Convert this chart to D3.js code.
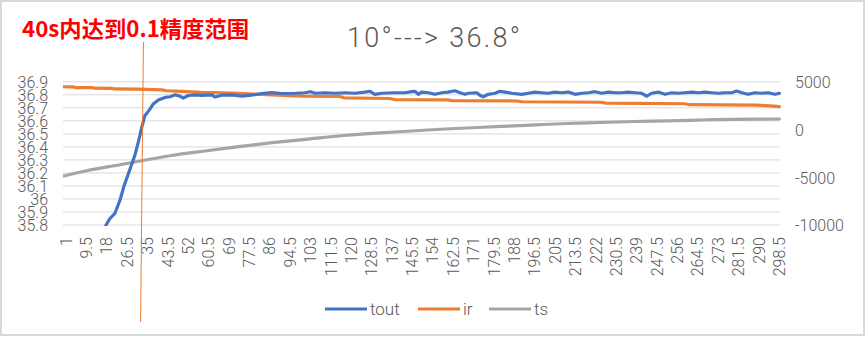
<!DOCTYPE html>
<html>
<head>
<meta charset="utf-8">
<script src="https://cdn.jsdelivr.net/npm/d3@7/dist/d3.min.js"></script>
<style>
  html, body { margin: 0; padding: 0; background: #fff; }
  svg { display: block; }
  .lbl { font-family: Roboto, "Noto Sans", sans-serif; font-weight: 300; fill: #595959; }
</style>
</head>
<body>
<svg id="chart" width="867" height="338"></svg>
<script>
// ---- data -------------------------------------------------------------
// tout: outlet temperature (left axis, °C)
const toutTime = [1, 8, 15, 18.7, 20.3, 22.4, 24.5, 26.2, 28.7, 30.8, 32.2, 33.6, 34.9, 37, 38.4, 40.5,
  43.3, 45.4, 47.5, 49.5, 50.9, 53, 55.8, 58.6, 62.8, 64.1, 66.9, 71.1, 75.3, 79.4, 83.6, 87.8, 92,
  97.6, 101.7, 103.8, 105.9, 110, 114.2, 118.3, 122.5, 126.6, 128.8, 130.8, 133.6, 139.2, 143.4,
  146.2, 147.5, 148.9, 150.3, 153.1, 155.9, 158.7, 161.4, 164.2, 166.3, 168.4, 169.8, 173.3, 174.6,
  176, 178.1, 180.9, 183, 185.1, 187.9, 192, 194.8, 197.6, 200.4, 203.1, 205.9, 208.7, 211.5, 214.3,
  217.1, 219.8, 222.6, 225.4, 228.2, 231, 233.7, 236.5, 239.3, 242.1, 244.2, 246.2, 249, 251.8,
  254.6, 257.3, 260.1, 262.9, 265.7, 268.5, 271.3, 274, 276.8, 279.6, 281.7, 283.8, 286.5, 289.3,
  292.1, 294.9, 297.7, 299.5];
const toutValue = [35.10, 35.38, 35.65, 35.80, 35.85, 35.89, 35.99, 36.10, 36.23, 36.34, 36.44, 36.55, 36.64, 36.69, 36.73, 36.76,
  36.78, 36.785, 36.80, 36.79, 36.775, 36.795, 36.80, 36.795, 36.80, 36.783, 36.797, 36.80, 36.79, 36.797, 36.81, 36.817, 36.81,
  36.812, 36.816, 36.824, 36.812, 36.816, 36.812, 36.816, 36.812, 36.821, 36.827, 36.804, 36.812, 36.816, 36.816,
  36.824, 36.827, 36.804, 36.821, 36.816, 36.804, 36.816, 36.821, 36.831, 36.816, 36.804, 36.812, 36.816, 36.796,
  36.785, 36.804, 36.812, 36.827, 36.821, 36.812, 36.804, 36.812, 36.821, 36.816, 36.812, 36.821, 36.816, 36.821, 36.804,
  36.812, 36.816, 36.824, 36.812, 36.821, 36.816, 36.816, 36.821, 36.816, 36.812, 36.789, 36.812, 36.821, 36.804,
  36.816, 36.812, 36.816, 36.821, 36.816, 36.821, 36.816, 36.812, 36.816, 36.816, 36.829, 36.816, 36.804, 36.816,
  36.812, 36.816, 36.804, 36.812];

// ir: heater drive (right axis)
const irTime = [1, 5, 6, 13, 14, 21, 22, 32, 42, 44, 50, 58, 64, 74, 80, 88, 95, 101, 116, 118, 137, 139,
  161, 163, 190, 192, 225, 227, 260, 262, 290, 297, 299.5];
const irValue = [4480, 4470, 4400, 4380, 4330, 4320, 4250, 4240, 4150, 4060, 4000, 3900, 3880, 3800, 3720, 3620,
  3560, 3500, 3470, 3320, 3250, 3140, 3100, 3030, 2990, 2910, 2860, 2760, 2700, 2600, 2560, 2450, 2400];

// ts: set-point track (right axis)
const tsTime = [1, 11, 25, 34, 46, 60, 74, 88, 102, 118, 139, 160, 181, 198, 211, 225, 239, 253, 267, 281, 299.5];
const tsValue = [-4867, -4291, -3662, -3243, -2720, -2248, -1798, -1379, -1023, -625, -258, 56, 297, 496, 632,
  737, 842, 915, 999, 1072, 1103];

// axis ticks
const xTickValues = [1, 9.5, 18, 26.5, 35, 43.5, 52, 60.5, 69, 77.5, 86, 94.5, 103, 111.5, 120, 128.5, 137, 145.5,
  154, 162.5, 171, 179.5, 188, 196.5, 205, 213.5, 222, 230.5, 239, 247.5, 256, 264.5, 273, 281.5, 290, 298.5];
const leftTicks = [35.8, 35.9, 36, 36.1, 36.2, 36.3, 36.4, 36.5, 36.6, 36.7, 36.8, 36.9];
const rightTicks = [-10000, -5000, 0, 5000];

const seriesNames = ["tout", "ir", "ts"];
const seriesColors = ["#4472C4", "#ED7D31", "#A5A5A5"];

const titleText = "10°---> 36.8°";
const noteText = "40s内达到0.1精度范围";

// ---- layout -----------------------------------------------------------
const W = 867, H = 338;
const plot = { left: 63, right: 780, top: 81.8, bottom: 225 };

const svg = d3.select("#chart");

// chart frame
svg.append("rect").attr("x", 1).attr("y", 1).attr("width", W - 4).attr("height", H - 4)
  .attr("fill", "#fff").attr("stroke", "#d9d9d9").attr("stroke-width", 2);

const x = d3.scaleLinear().domain([0.75, 299.75]).range([plot.left, plot.right]);
const yL = d3.scaleLinear().domain([35.8, 36.9]).range([plot.bottom, plot.top]);
const yR = d3.scaleLinear().domain([-10000, 5000]).range([plot.bottom, plot.top]);

// gridlines
svg.append("g").selectAll("line").data(leftTicks).join("line")
  .attr("x1", plot.left).attr("x2", plot.right)
  .attr("y1", d => yL(d)).attr("y2", d => yL(d))
  .attr("stroke", "#d9d9d9").attr("stroke-width", 1);

// axes
const fmtL = d => String(+d.toFixed(1));
const gL = svg.append("g").attr("transform", `translate(${plot.left - 15},0)`)
  .call(d3.axisLeft(yL).tickValues(leftTicks).tickFormat(fmtL).tickSize(0).tickPadding(0));
const gR = svg.append("g").attr("transform", `translate(${plot.right + 15},0)`)
  .call(d3.axisRight(yR).tickValues(rightTicks).tickFormat(d => String(d)).tickSize(0).tickPadding(0));
const gX = svg.append("g").attr("transform", `translate(2,${plot.bottom + 12})`)
  .call(d3.axisBottom(x).tickValues(xTickValues).tickFormat(d => String(d)).tickSize(0).tickPadding(0));

[gL, gR, gX].forEach(g => {
  g.select(".domain").remove();
  g.selectAll("text").attr("class", "lbl").attr("font-size", 16).attr("fill", "#595959");
});
gL.selectAll("text").attr("dy", "0.36em");
gR.selectAll("text").attr("dy", "0.36em");
gX.selectAll("text")
  .attr("text-anchor", "end")
  .attr("dy", null).attr("y", 0)
  .attr("transform", "rotate(-90)")
  .attr("dx", 0)
  .attr("dominant-baseline", "central");

// clip region for the series
svg.append("clipPath").attr("id", "plotClip").append("rect")
  .attr("x", plot.left).attr("y", plot.top - 10)
  .attr("width", plot.right - plot.left + 2).attr("height", plot.bottom - plot.top + 11);

const series = [
  { t: toutTime, v: toutValue, y: yL, curve: d3.curveLinear },
  { t: irTime, v: irValue, y: yR, curve: d3.curveLinear },
  { t: tsTime, v: tsValue, y: yR, curve: d3.curveMonotoneX }
];

const gS = svg.append("g").attr("clip-path", "url(#plotClip)");
// draw ts first, then ir, then tout on top
[2, 1, 0].forEach(i => {
  const s = series[i];
  const pts = s.t.map((t, k) => [t, s.v[k]]);
  const line = d3.line().x(d => x(d[0])).y(d => s.y(d[1])).curve(s.curve);
  gS.append("path").datum(pts)
    .attr("d", line)
    .attr("fill", "none")
    .attr("stroke", seriesColors[i])
    .attr("stroke-width", 3.2)
    .attr("stroke-linejoin", "round")
    .attr("stroke-linecap", "round");
});

// title
svg.append("text").attr("class", "lbl")
  .attr("x", 433.5).attr("y", 47).attr("text-anchor", "middle")
  .attr("font-size", 27)
  .attr("textLength", 173).attr("lengthAdjust", "spacing")
  .text(titleText);

// annotation note + marker line
svg.append("text")
  .attr("x", 22).attr("y", 37)
  .attr("font-family", "'Noto Sans CJK SC', sans-serif")
  .attr("font-weight", 700)
  .attr("font-size", 22)
  .attr("textLength", 227).attr("lengthAdjust", "spacingAndGlyphs")
  .attr("fill", "#FF0000")
  .text(noteText);

const markerTop = { t: 34.3, y: 42 }, markerBottom = { t: 33.1, y: 322 };
svg.append("line")
  .attr("x1", x(markerTop.t)).attr("y1", markerTop.y)
  .attr("x2", x(markerBottom.t)).attr("y2", markerBottom.y)
  .attr("stroke", "#ED7D31").attr("stroke-width", 1);

// legend
const legendItems = [
  { name: seriesNames[0], color: seriesColors[0], x: 325 },
  { name: seriesNames[1], color: seriesColors[1], x: 418 },
  { name: seriesNames[2], color: seriesColors[2], x: 489 }
];
const gLeg = svg.append("g");
legendItems.forEach(it => {
  gLeg.append("line").attr("x1", it.x).attr("x2", it.x + 42).attr("y1", 309).attr("y2", 309)
    .attr("stroke", it.color).attr("stroke-width", 3);
  gLeg.append("text").attr("class", "lbl").attr("x", it.x + 45).attr("y", 315)
    .attr("font-size", 17).text(it.name);
});
</script>
</body>
</html>
